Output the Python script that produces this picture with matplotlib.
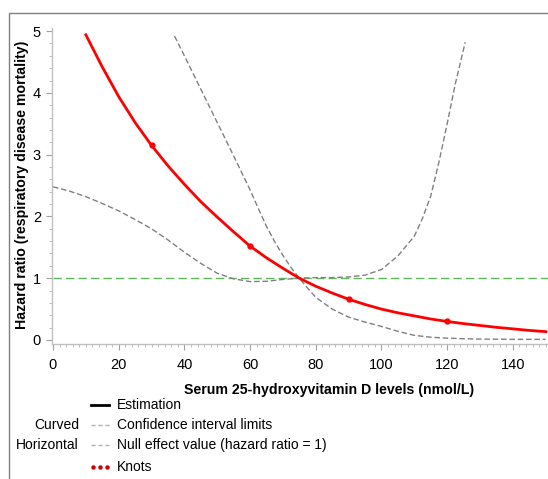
import matplotlib
matplotlib.use('Agg')
import matplotlib.pyplot as plt
from matplotlib.ticker import MultipleLocator

plt.rcParams['font.family'] = ['Liberation Sans', 'DejaVu Sans']

# estimated hazard ratio curve
est_x = [10, 15, 20, 25, 30, 35, 40, 45, 50, 55, 60, 65, 70, 75, 80, 85, 90,
         95, 100, 105, 110, 115, 120, 125, 130, 135, 140, 145, 150]
est_y = [4.94, 4.42, 3.94, 3.52, 3.15, 2.82, 2.52, 2.24, 1.99, 1.75, 1.52, 1.33,
         1.16, 1.0, 0.87, 0.76, 0.66, 0.575, 0.50, 0.44, 0.39, 0.34, 0.30, 0.265,
         0.235, 0.205, 0.18, 0.155, 0.135]

# confidence limits (they cross at the reference point)
ci_a_x = [37, 40, 45, 50, 55, 60, 62.5, 65, 67.5, 70, 72.5, 75, 77.5, 80, 85, 90,
          95, 100, 105, 110, 115, 120, 125, 130, 140, 150]
ci_a_y = [4.92, 4.6, 4.06, 3.52, 2.98, 2.43, 2.13, 1.84, 1.59, 1.37, 1.17, 1.0,
          0.84, 0.69, 0.50, 0.37, 0.29, 0.22, 0.14, 0.075, 0.045, 0.03, 0.02,
          0.015, 0.01, 0.01]

ci_b_x = [0, 5, 10, 15, 20, 25, 30, 35, 40, 45, 50, 55, 60, 65, 70, 75, 80, 85,
          90, 95, 100, 105, 110, 112.5, 115, 117.5, 120, 122.5, 125.5]
ci_b_y = [2.48, 2.41, 2.32, 2.21, 2.09, 1.95, 1.80, 1.62, 1.42, 1.24, 1.08, 0.99,
          0.945, 0.95, 0.98, 1.0, 1.01, 1.01, 1.02, 1.05, 1.14, 1.36, 1.68, 1.97,
          2.33, 2.88, 3.5, 4.15, 4.82]

knot_x = [30, 60, 90, 120]
knot_y = [3.15, 1.52, 0.66, 0.30]

null_x = [0, 150.7]
null_y = [1, 1]

fig = plt.figure(figsize=(5.48, 4.79), dpi=100)
W, H = 548, 479
ax = fig.add_axes([52 / W, 1 - 344 / H, 1 - 52 / W, (344 - 28) / H])

ax.plot(null_x, null_y, color='#5cb85c', lw=1, dashes=(6, 3))
ax.plot(ci_b_x, ci_b_y, color='#808080', lw=1, dashes=(4, 2))
ax.plot(ci_a_x, ci_a_y, color='#808080', lw=1, dashes=(4, 2))
ax.plot(est_x, est_y, color='#ff0000', lw=2)
ax.plot(knot_x, knot_y, 'o', color='#ff0000', ms=3.5)

ax.set_xlim(-0.3, 150.7)
ax.set_ylim(-0.065, 5.05)
ax.xaxis.set_minor_locator(MultipleLocator(2))
ax.yaxis.set_major_locator(MultipleLocator(1))
ax.yaxis.set_minor_locator(MultipleLocator(0.2))
ax.set_xticks([0, 20, 40, 60, 80, 100, 120, 140])

for s in ['top', 'right']:
    ax.spines[s].set_visible(False)
for s in ['left', 'bottom']:
    ax.spines[s].set_color('#c0c0c0')
    ax.spines[s].set_linewidth(1)
ax.tick_params(which='major', length=4, color='#a0a0a0', labelsize=10.5, pad=4)
ax.tick_params(which='minor', length=2.5, color='#b0b0b0')
ax.tick_params(axis='x', which='major', pad=6)

ax.set_xlabel('Serum 25-hydroxyvitamin D levels (nmol/L)', fontsize=10.2,
              fontweight='bold')
ax.xaxis.set_label_coords((329 - 52) / (W - 52), -(383 - 344) / (344 - 28))
fig.text(22 / W, 1 - 185 / H, 'Hazard ratio (respiratory disease mortality)',
         rotation=90, fontsize=10.2, fontweight='bold', ha='center', va='center')

# legend and outer frame drawn in pixel units
ov = fig.add_axes([0, 0, 1, 1], zorder=-1)
ov.set_xlim(0, W)
ov.set_ylim(H, 0)
ov.axis('off')
ov.plot([9, 9, W + 2], [H + 2, 13, 13], color='#808080', lw=1)

ov.plot([91, 109], [405, 405], color='black', lw=2)
ov.plot([91, 109], [425, 425], color='#b0b0b0', lw=1, dashes=(3, 2))
ov.plot([91, 109], [445, 445], color='#b0b0b0', lw=1, dashes=(3, 2))
ov.plot([93, 100, 107], [467, 467, 467], 'o', color='#cc0000', ms=2.2)
ov.text(79, 425, 'Curved', ha='right', va='center', fontsize=10)
ov.text(79, 445, 'Horizontal', ha='right', va='center', fontsize=10)
ov.text(117, 405, 'Estimation', va='center', fontsize=10)
ov.text(117, 425, 'Confidence interval limits', va='center', fontsize=10)
ov.text(117, 445, 'Null effect value (hazard ratio = 1)', va='center', fontsize=10)
ov.text(117, 467, 'Knots', va='center', fontsize=10)

fig.savefig('out.png', dpi=100)
